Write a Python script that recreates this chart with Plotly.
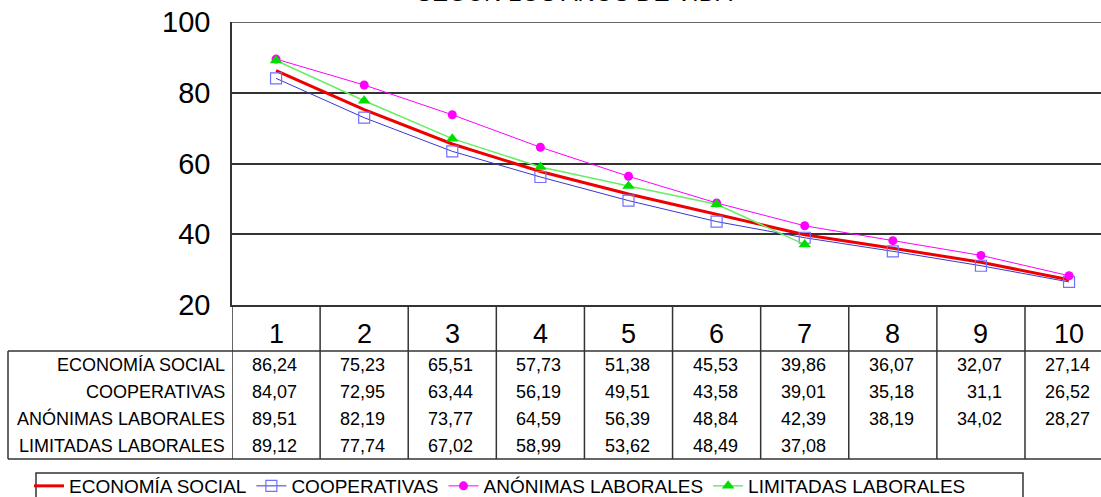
import plotly.graph_objects as go

# ---- data ----
title_text = "SEGÚN LOS AÑOS DE VIDA"
years = [1, 2, 3, 4, 5, 6, 7, 8, 9, 10]
year_labels = ["1", "2", "3", "4", "5", "6", "7", "8", "9", "10"]
series_names = ["ECONOMÍA SOCIAL", "COOPERATIVAS", "ANÓNIMAS LABORALES", "LIMITADAS LABORALES"]
economia_social = [86.24, 75.23, 65.51, 57.73, 51.38, 45.53, 39.86, 36.07, 32.07, 27.14]
cooperativas = [84.07, 72.95, 63.44, 56.19, 49.51, 43.58, 39.01, 35.18, 31.1, 26.52]
anonimas_laborales = [89.51, 82.19, 73.77, 64.59, 56.39, 48.84, 42.39, 38.19, 34.02, 28.27]
limitadas_laborales = [89.12, 77.74, 67.02, 58.99, 53.62, 48.49, 37.08, None, None, None]
y_ticks = [20, 40, 60, 80, 100]

W, H = 1101, 497
FONT = "Arial, Liberation Sans, sans-serif"


def py(p):
    return 1 - p / H


def px(p):
    return p / W


series_values = [economia_social, cooperativas, anonimas_laborales, limitadas_laborales]
styles = [
    dict(mode="lines", line=dict(color="#EE0000", width=3)),
    dict(mode="lines+markers", line=dict(color="#3838D0", width=1),
         marker=dict(symbol="square-open", size=11, color="#7070FF", line=dict(width=1.2))),
    dict(mode="lines+markers", line=dict(color="#FF00FF", width=1),
         marker=dict(symbol="circle", size=9, color="#FF00FF")),
    dict(mode="lines+markers", line=dict(color="#66EE66", width=1.5),
         marker=dict(symbol="triangle-up", size=11, color="#00DD00")),
]

fig = go.Figure()
for name, vals, st in zip(series_names, series_values, styles):
    fig.add_trace(go.Scatter(x=years, y=vals, name=name, **st))

col_w = 88.11
x_right = 0.5 + (W - 232) / col_w

shapes = []
line_c = "#333333"
# top border at 100
shapes.append(dict(type="line", xref="x", yref="y", x0=0.5, x1=x_right, y0=100, y1=100,
                   line=dict(color=line_c, width=1.5)))
# table lines
shapes.append(dict(type="line", xref="paper", yref="paper", x0=px(8), x1=1, y0=py(351), y1=py(351),
                   line=dict(color=line_c, width=1.5)))
shapes.append(dict(type="line", xref="paper", yref="paper", x0=px(8), x1=1, y0=py(459), y1=py(459),
                   line=dict(color=line_c, width=1.5)))
shapes.append(dict(type="line", xref="paper", yref="paper", x0=px(8), x1=px(8), y0=py(351), y1=py(459),
                   line=dict(color=line_c, width=1.5)))
for k in range(0, 10):
    shapes.append(dict(type="line", xref="x", yref="paper", x0=0.5 + k, x1=0.5 + k,
                       y0=py(305), y1=py(459), line=dict(color=line_c, width=1.5)))
# legend frame
shapes.append(dict(type="rect", xref="paper", yref="paper", x0=px(36), x1=px(1023),
                   y0=py(473), y1=py(520), line=dict(color=line_c, width=1.5)))

annotations = []
annotations.append(dict(text=title_text, xref="paper", yref="paper", x=px(574), y=py(-7.6),
                        xanchor="center", yanchor="middle", showarrow=False,
                        font=dict(family=FONT, size=24, color="black")))
for x, lab in zip(years, year_labels):
    annotations.append(dict(text=lab, xref="x", yref="paper", x=x, y=py(334),
                            xanchor="center", yanchor="middle", showarrow=False,
                            font=dict(family=FONT, size=27, color="black")))
row_y = [364.5, 391.5, 418.5, 445.5]
for name, vals, ry in zip(series_names, series_values, row_y):
    annotations.append(dict(text=name, xref="paper", yref="paper", x=px(227), y=py(ry),
                            xanchor="right", yanchor="middle", showarrow=False,
                            font=dict(family=FONT, size=18, color="black")))
    for x, v in zip(years, vals):
        if v is None:
            continue
        annotations.append(dict(text=str(v).replace(".", ","), xref="x", yref="paper",
                                x=x, y=py(ry), xanchor="right", yanchor="middle",
                                xshift=col_w / 2 - 21, showarrow=False,
                                font=dict(family=FONT, size=18, color="black")))

fig.update_layout(
    width=W, height=H,
    margin=dict(l=0, r=0, t=0, b=0, autoexpand=False),
    paper_bgcolor="white", plot_bgcolor="white",
    showlegend=True,
    legend=dict(orientation="h", x=px(29), y=py(467), xanchor="left", yanchor="top",
                bgcolor="rgba(0,0,0,0)", borderwidth=0,
                font=dict(family=FONT, size=19, color="black"), traceorder="normal"),
    xaxis=dict(domain=[px(232), 1], range=[0.5, x_right], showticklabels=False, ticks="",
               showgrid=False, zeroline=False, showline=True, linecolor=line_c, linewidth=1.5),
    yaxis=dict(domain=[py(305), py(22)], range=[20, 100], tickvals=y_ticks, ticks="",
               showgrid=True, gridcolor=line_c, gridwidth=1.5, zeroline=False,
               showline=True, linecolor=line_c, linewidth=1.5, ticklabelstandoff=14,
               tickfont=dict(family=FONT, size=29, color="black")),
    shapes=shapes, annotations=annotations,
)

fig.write_html("out.html", config={"displayModeBar": False},
               post_script="document.body.style.margin='0';document.body.style.overflow='hidden';")
